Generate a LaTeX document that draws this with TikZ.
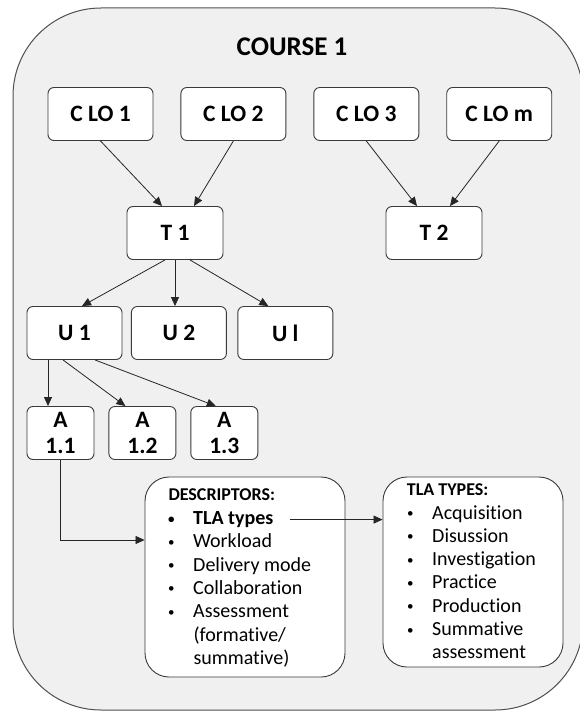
\documentclass[tikz,border=0pt]{standalone}
\usepackage{fontspec}
\setmainfont{Carlito}[Ligatures=NoCommon]
\usepackage{tikz}
\usetikzlibrary{arrows.meta,positioning}
\definecolor{cframe}{HTML}{505050}
\definecolor{cfill}{HTML}{F0F0F0}
\definecolor{cedge}{HTML}{3A3A3A}
\newcommand{\bul}{\makebox[27pt][l]{\hspace{2pt}\raisebox{1.5pt}{\fontsize{13}{13}\selectfont\textbullet}}}

\begin{document}
\begin{tikzpicture}[x=1pt, y=-1pt,
  box/.style={draw=cedge, fill=white, rounded corners=6pt, line width=0.9pt,
              minimum height=53pt, inner sep=1pt, align=center,
              font=\fontsize{23.5}{26}\selectfont\bfseries},
  panel/.style={draw=cedge, fill=white, rounded corners=24pt, line width=0.9pt},
  entry/.style={anchor=base west, inner sep=0pt, font=\fontsize{20}{23}\selectfont},
  head/.style={anchor=base west, inner sep=0pt, font=\fontsize{18}{22}\selectfont\bfseries},
  arr/.style={-{Triangle[length=9pt,width=8pt]}, line width=0.8pt, black!85},
]
\useasboundingbox (0,0) rectangle (579,711);
\draw[draw=cframe, fill=cfill, line width=1pt, rounded corners=88pt] (13,8) rectangle (583,710);

\node[font=\fontsize{27}{32}\selectfont\bfseries] (title) at (292,47) {COURSE 1};

\node[box, minimum width=105pt] (clo1) at (100.5,114) {C LO 1};
\node[box, minimum width=105pt, right=27pt of clo1] (clo2) {C LO 2};
\node[box, minimum width=105pt, right=27pt of clo2] (clo3) {C LO 3};
\node[box, minimum width=105pt, right=27pt of clo3] (clom) {C LO m};

\node[box, minimum width=96pt] (t1) at (175,233) {T 1};
\node[box, minimum width=96pt] (t2) at (434,233) {T 2};

\node[box, minimum width=95pt] (u1) at (74.5,333) {U 1};
\node[box, minimum width=95pt, right=8.5pt of u1] (u2) {U 2};
\node[box, minimum width=95pt, right=10.5pt of u2] (ul) {U l};

\node[box, minimum width=67pt] (a11) at (60.5,433) {A\\1.1};
\node[box, minimum width=67pt, right=14pt of a11] (a12) {A\\1.2};
\node[box, minimum width=67pt, right=14pt of a12] (a13) {A\\1.3};

\node[panel, minimum width=200pt, minimum height=200pt] (desc) at (245,577) {};
\node[panel, minimum width=180pt, minimum height=190pt] (types) at (473,572) {};

\node[head] (dhead) at (168.3,500.7) {DESCRIPTORS:};
\node[entry, font=\fontsize{20}{23}\selectfont\bfseries] (dtla) at (166,524.5) {\bul TLA types};
\foreach \txt [count=\i] in {Workload, Delivery mode, Collaboration, Assessment}
  \node[entry] (dx\i) at (166,524.5+23.3*\i) {\bul\txt};
\node[entry] (dx5) at (193.3,641) {(formative/};
\node[entry] (dx6) at (193.3,664.3) {summative)};

\node[head] (thead) at (406.7,495) {TLA TYPES:};
\foreach \txt [count=\i from 0] in {Acquisition, Disussion, Investigation, Practice, Production, Summative}
  \node[entry] (ty\i) at (405,519+23.3*\i) {\bul\txt};
\node[entry] (ty6) at (432,658.8) {assessment};

\draw[arr] (clo1.south) -- ([xshift=-13pt]t1.north);
\draw[arr] (clo2.south) -- ([xshift=19pt]t1.north);
\draw[arr] (clo3.south) -- ([xshift=-17pt]t2.north);
\draw[arr] (clom.south) -- ([xshift=16pt]t2.north);

\draw[arr] ([xshift=-10pt]t1.south) -- ([xshift=7.5pt]u1.north);
\draw[arr] (t1.south) -- (t1.south |- u2.north);
\draw[arr] ([xshift=15pt]t1.south) -- ([xshift=-17pt]ul.north);

\draw[arr] ([xshift=-26.5pt]u1.south) -- ([xshift=-12.5pt]a11.north);
\draw[arr] ([xshift=-11.5pt]u1.south) -- ([xshift=-17pt]a12.north);
\draw[arr] ([xshift=20.5pt]u1.south) -- ([xshift=-8.5pt]a13.north);

\draw[arr] (a11.south) |- ([yshift=37pt]desc.west);
\draw[arr] ([xshift=16pt]dtla.east) -- (types.west |- dtla.east);

\end{tikzpicture}
\end{document}
